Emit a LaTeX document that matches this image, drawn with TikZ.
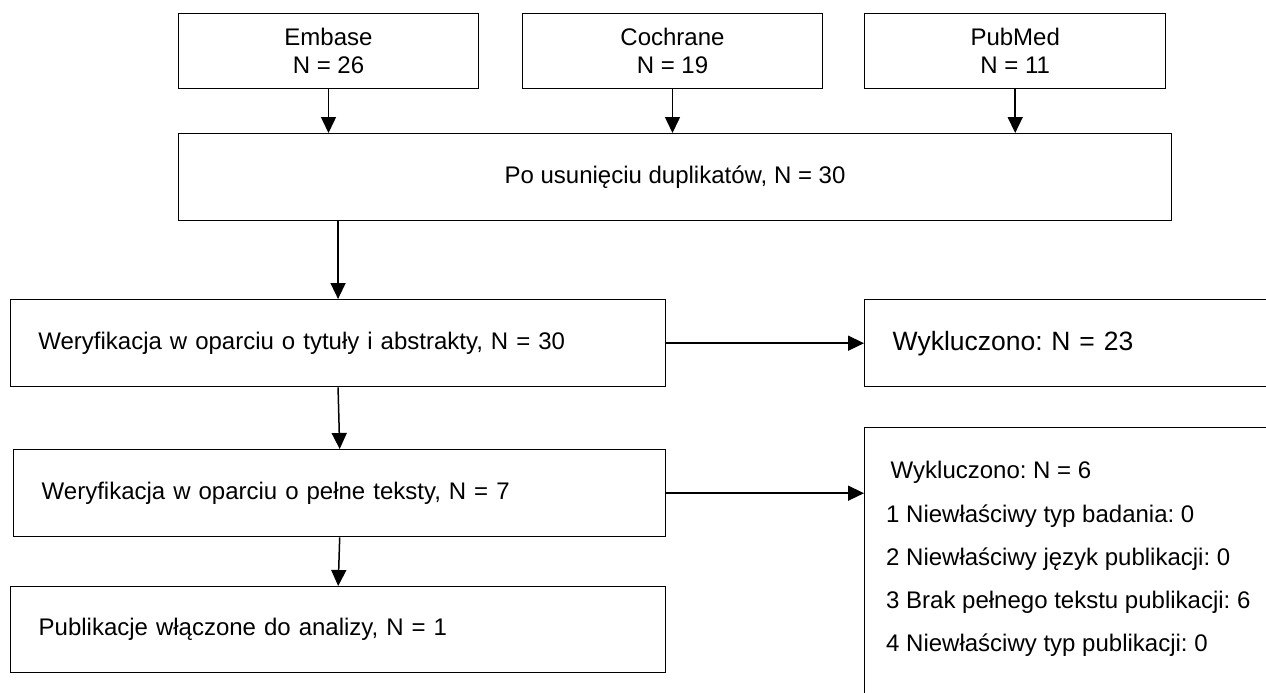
\documentclass[tikz,border=0pt]{standalone}
\usepackage{fontspec}
\setmainfont{Liberation Sans}
\usetikzlibrary{arrows.meta}
\frenchspacing
\begin{document}
\begin{tikzpicture}[x=1pt,y=-1pt,
  box/.style={draw, line width=1.4pt, rectangle, inner sep=0pt, anchor=north west,
    font=\fontsize{24}{28}\selectfont},
  lbox/.style={box, align=left, inner xsep=28pt},
  txt/.style={anchor=base west, inner sep=0pt, font=\fontsize{24}{28}\selectfont},
  arr/.style={line width=1.5pt, -{Triangle[length=16pt,width=15pt]}}]
\clip (0,0) rectangle (1266,693);
\fill[white] (0,0) rectangle (1266,693);
% sources
\node[box, align=center, minimum width=300.4pt, minimum height=75pt] (emb) at (177.6,13) {Embase\\N = 26};
\node[box, align=center, minimum width=300.4pt, minimum height=75pt] (coch) at (521.6,13) {Cochrane\\N = 19};
\node[box, align=center, minimum width=301pt, minimum height=75pt] (pub) at (864,13) {PubMed\\N = 11};
% after duplicates
\node[box, minimum width=993.4pt, minimum height=87pt] (dup) at (177.6,133) {Po usunięciu duplikatów, N = 30};
% left column
\node[lbox, text width=599.3pt, minimum height=87pt] (w1) at (9.7,299) {Weryfikacja w oparciu o tytuły i abstrakty, N = 30};
\node[lbox, text width=596pt, minimum height=87pt] (w2) at (13,449) {Weryfikacja w oparciu o pełne teksty, N = 7};
\node[lbox, text width=599pt, minimum height=86pt] (incl) at (10,586) {Publikacje włączone do analizy, N = 1};
% right column
\node[lbox, text width=364pt, minimum height=87pt, font=\fontsize{26.5}{30}\selectfont] (ex1) at (864,299) {Wykluczono: N = 23};
\node[box, minimum width=420pt, minimum height=300pt] (ex2) at (864,427) {};
\node[txt] (ex2a) at (890.5,478.5) {Wykluczono: N = 6};
\node[txt] (ex2b) at (886,522.5) {1 Niewłaściwy typ badania: 0};
\node[txt] (ex2c) at (886,565.5) {2 Niewłaściwy język publikacji: 0};
\node[txt] (ex2d) at (886,608.5) {3 Brak pełnego tekstu publikacji: 6};
\node[txt] (ex2e) at (886,651.5) {4 Niewłaściwy typ publikacji: 0};
% connectors
\draw[arr] (emb.south) -- (emb.south |- dup.north);
\draw[arr] (coch.south) -- (coch.south |- dup.north);
\draw[arr] (pub.south) -- (pub.south |- dup.north);
\draw[arr] (w1.north |- dup.south) -- (w1.north);
\draw[arr] (w1.south) -- (w2.north);
\draw[arr] (w2.south) -- (incl.north);
\draw[arr] (w1.east) -- (ex1.west);
\draw[arr] (w2.east) -- (ex2.west |- w2.east);
\end{tikzpicture}
\end{document}
